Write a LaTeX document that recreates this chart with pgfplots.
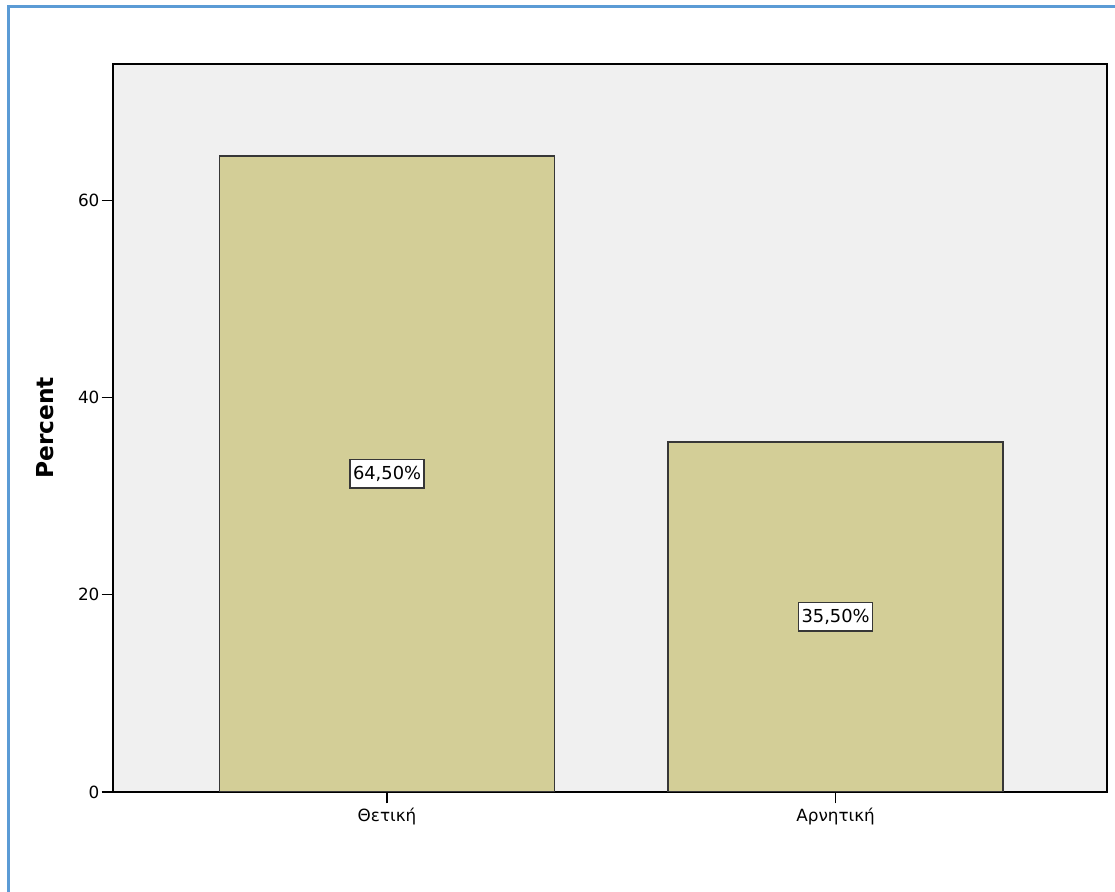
\documentclass[border=0pt]{standalone}
\usepackage{fontspec}
\setmainfont{DejaVu Sans}
\usepackage{pgfplots}
\pgfplotsset{compat=1.18}
\definecolor{barfill}{RGB}{211,206,151}
\definecolor{bgray}{RGB}{240,240,240}
\definecolor{edgegray}{RGB}{55,55,55}
\definecolor{framebl}{RGB}{91,155,213}
\begin{document}
\begin{tikzpicture}
\useasboundingbox (-84.75pt,-75pt) rectangle (751.5pt,594pt);
\draw[framebl, line width=2.25pt] (-78pt,-80pt) -- (-78pt,588.75pt) -- (760pt,588.75pt);
\begin{axis}[
  at={(0pt,0pt)}, anchor=south west,
  scale only axis,
  width=745.5pt, height=546pt,
  xmin=-0.611, xmax=1.605,
  ymin=0, ymax=73.8,
  xtick={0,1},
  xticklabels={Θετική, Αρνητική},
  ytick={0,20,40,60},
  tick align=outside,
  xtick pos=bottom, ytick pos=left,
  major tick length=8.5pt,
  tick style={black, line width=0.9pt},
  axis line style={black, line width=1.1pt},
  axis background/.style={fill=bgray},
  /pgf/number format/assume math mode=true,
  ticklabel style={font=\fontsize{12.6}{14}\selectfont},
  yticklabel style={inner sep=1.5pt},
  xticklabel style={inner sep=3pt},
  ylabel={\fontsize{17.5}{20}\selectfont\bfseries Percent},
  every axis y label/.style={at={(axis description cs:-0.0684,0.5)}, rotate=90, anchor=center},
]
\addplot[ybar, bar width=0.747, fill=barfill, draw=edgegray, line width=1.2pt]
  coordinates {(0,64.5) (1,35.5)};
\addplot[draw=none, mark=none, nodes near coords, point meta=explicit symbolic,
  every node near coord/.style={anchor=center, draw=edgegray, line width=1.2pt, fill=white,
    inner xsep=2.2pt, inner ysep=5pt, font=\fontsize{13.4}{15}\selectfont}]
  coordinates {(0,32.25) [64,50\%] (1,17.75) [35,50\%]};
\end{axis}
\end{tikzpicture}
\end{document}
